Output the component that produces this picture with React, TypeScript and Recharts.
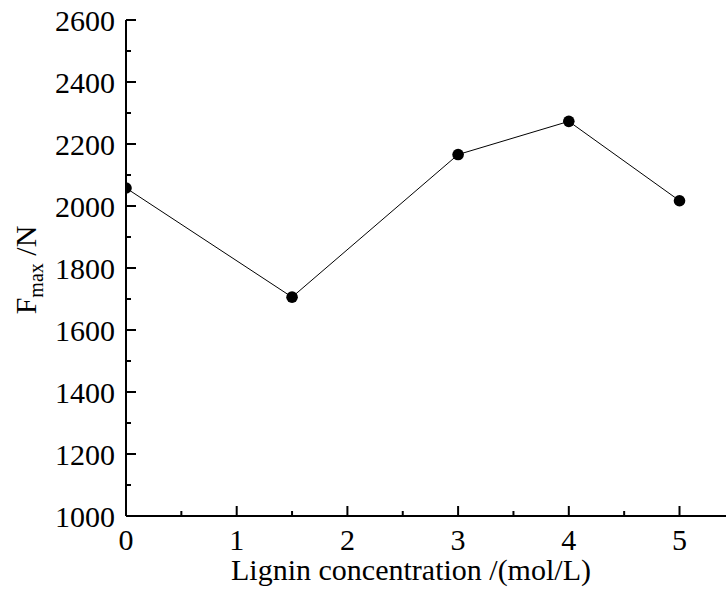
import { Label, Line, LineChart, XAxis, YAxis } from "recharts"

const concentration = [0, 1.5, 3, 4, 5]
const fmax = [2058, 1706, 2166, 2273, 2017]

const xTicks = [0, 0.5, 1, 1.5, 2, 2.5, 3, 3.5, 4, 4.5, 5]
const yTicks = [1000, 1100, 1200, 1300, 1400, 1500, 1600, 1700, 1800, 1900, 2000, 2100, 2200, 2300, 2400, 2500, 2600]

const data = concentration.map((c, i) => ({ c, f: fmax[i] }))

const FONT = "'Liberation Serif', 'Times New Roman', serif"

// major ticks get a label and a longer inward tick
const YTick = (props: any) => {
  const { x, y, payload } = props
  const major = payload.value % 200 === 0
  return (
    <g>
      <line x1={x} x2={x + (major ? 10 : 5)} y1={y} y2={y} stroke="#000" strokeWidth={2} />
      {major && (
        <text x={x - 11} y={y + 10.5} textAnchor="end" fontSize={30} fontFamily={FONT} fill="#000">
          {payload.value}
        </text>
      )}
    </g>
  )
}

const XTick = (props: any) => {
  const { x, y, payload } = props
  const major = Number.isInteger(payload.value)
  return (
    <g>
      <line x1={x} x2={x} y1={y} y2={y - (major ? 10 : 5)} stroke="#000" strokeWidth={2} />
      {major && (
        <text x={x} y={y + 34} textAnchor="middle" fontSize={30} fontFamily={FONT} fill="#000">
          {payload.value}
        </text>
      )}
    </g>
  )
}

export default function App() {
  return (
    <div style={{ position: "absolute", left: 0, top: 0, background: "#fff" }}>
      <LineChart width={726} height={589} data={data} margin={{ top: 20, right: 0, bottom: 0, left: 0 }}>
        <XAxis
          dataKey="c"
          type="number"
          domain={[0, 5.42]}
          ticks={xTicks}
          interval={0}
          height={73}
          tickSize={0}
          tickMargin={0}
          tick={<XTick />}
          axisLine={{ stroke: "#000", strokeWidth: 2 }}
          allowDataOverflow
        >
          <Label
            content={() => (
              <text x={411} y={580} textAnchor="middle" fontSize={30} fontFamily={FONT} fill="#000">
                Lignin concentration /(mol/L)
              </text>
            )}
          />
        </XAxis>
        <YAxis
          dataKey="f"
          type="number"
          domain={[1000, 2600]}
          ticks={yTicks}
          interval={0}
          width={126}
          tickSize={0}
          tickMargin={0}
          tick={<YTick />}
          axisLine={{ stroke: "#000", strokeWidth: 2 }}
        >
          <Label
            content={() => (
              <text
                x={36}
                y={270}
                transform="rotate(-90, 36, 270)"
                textAnchor="middle"
                fontSize={30}
                fontFamily={FONT}
                fill="#000"
              >
                F
                <tspan fontSize={20} dy={7}>max</tspan>
                <tspan dy={-7}> /N</tspan>
              </text>
            )}
          />
        </YAxis>
        <Line
          type="linear"
          dataKey="f"
          stroke="#000"
          strokeWidth={1}
          dot={{ r: 5.8, fill: "#000", stroke: "none" }}
          isAnimationActive={false}
        />
      </LineChart>
    </div>
  )
}
